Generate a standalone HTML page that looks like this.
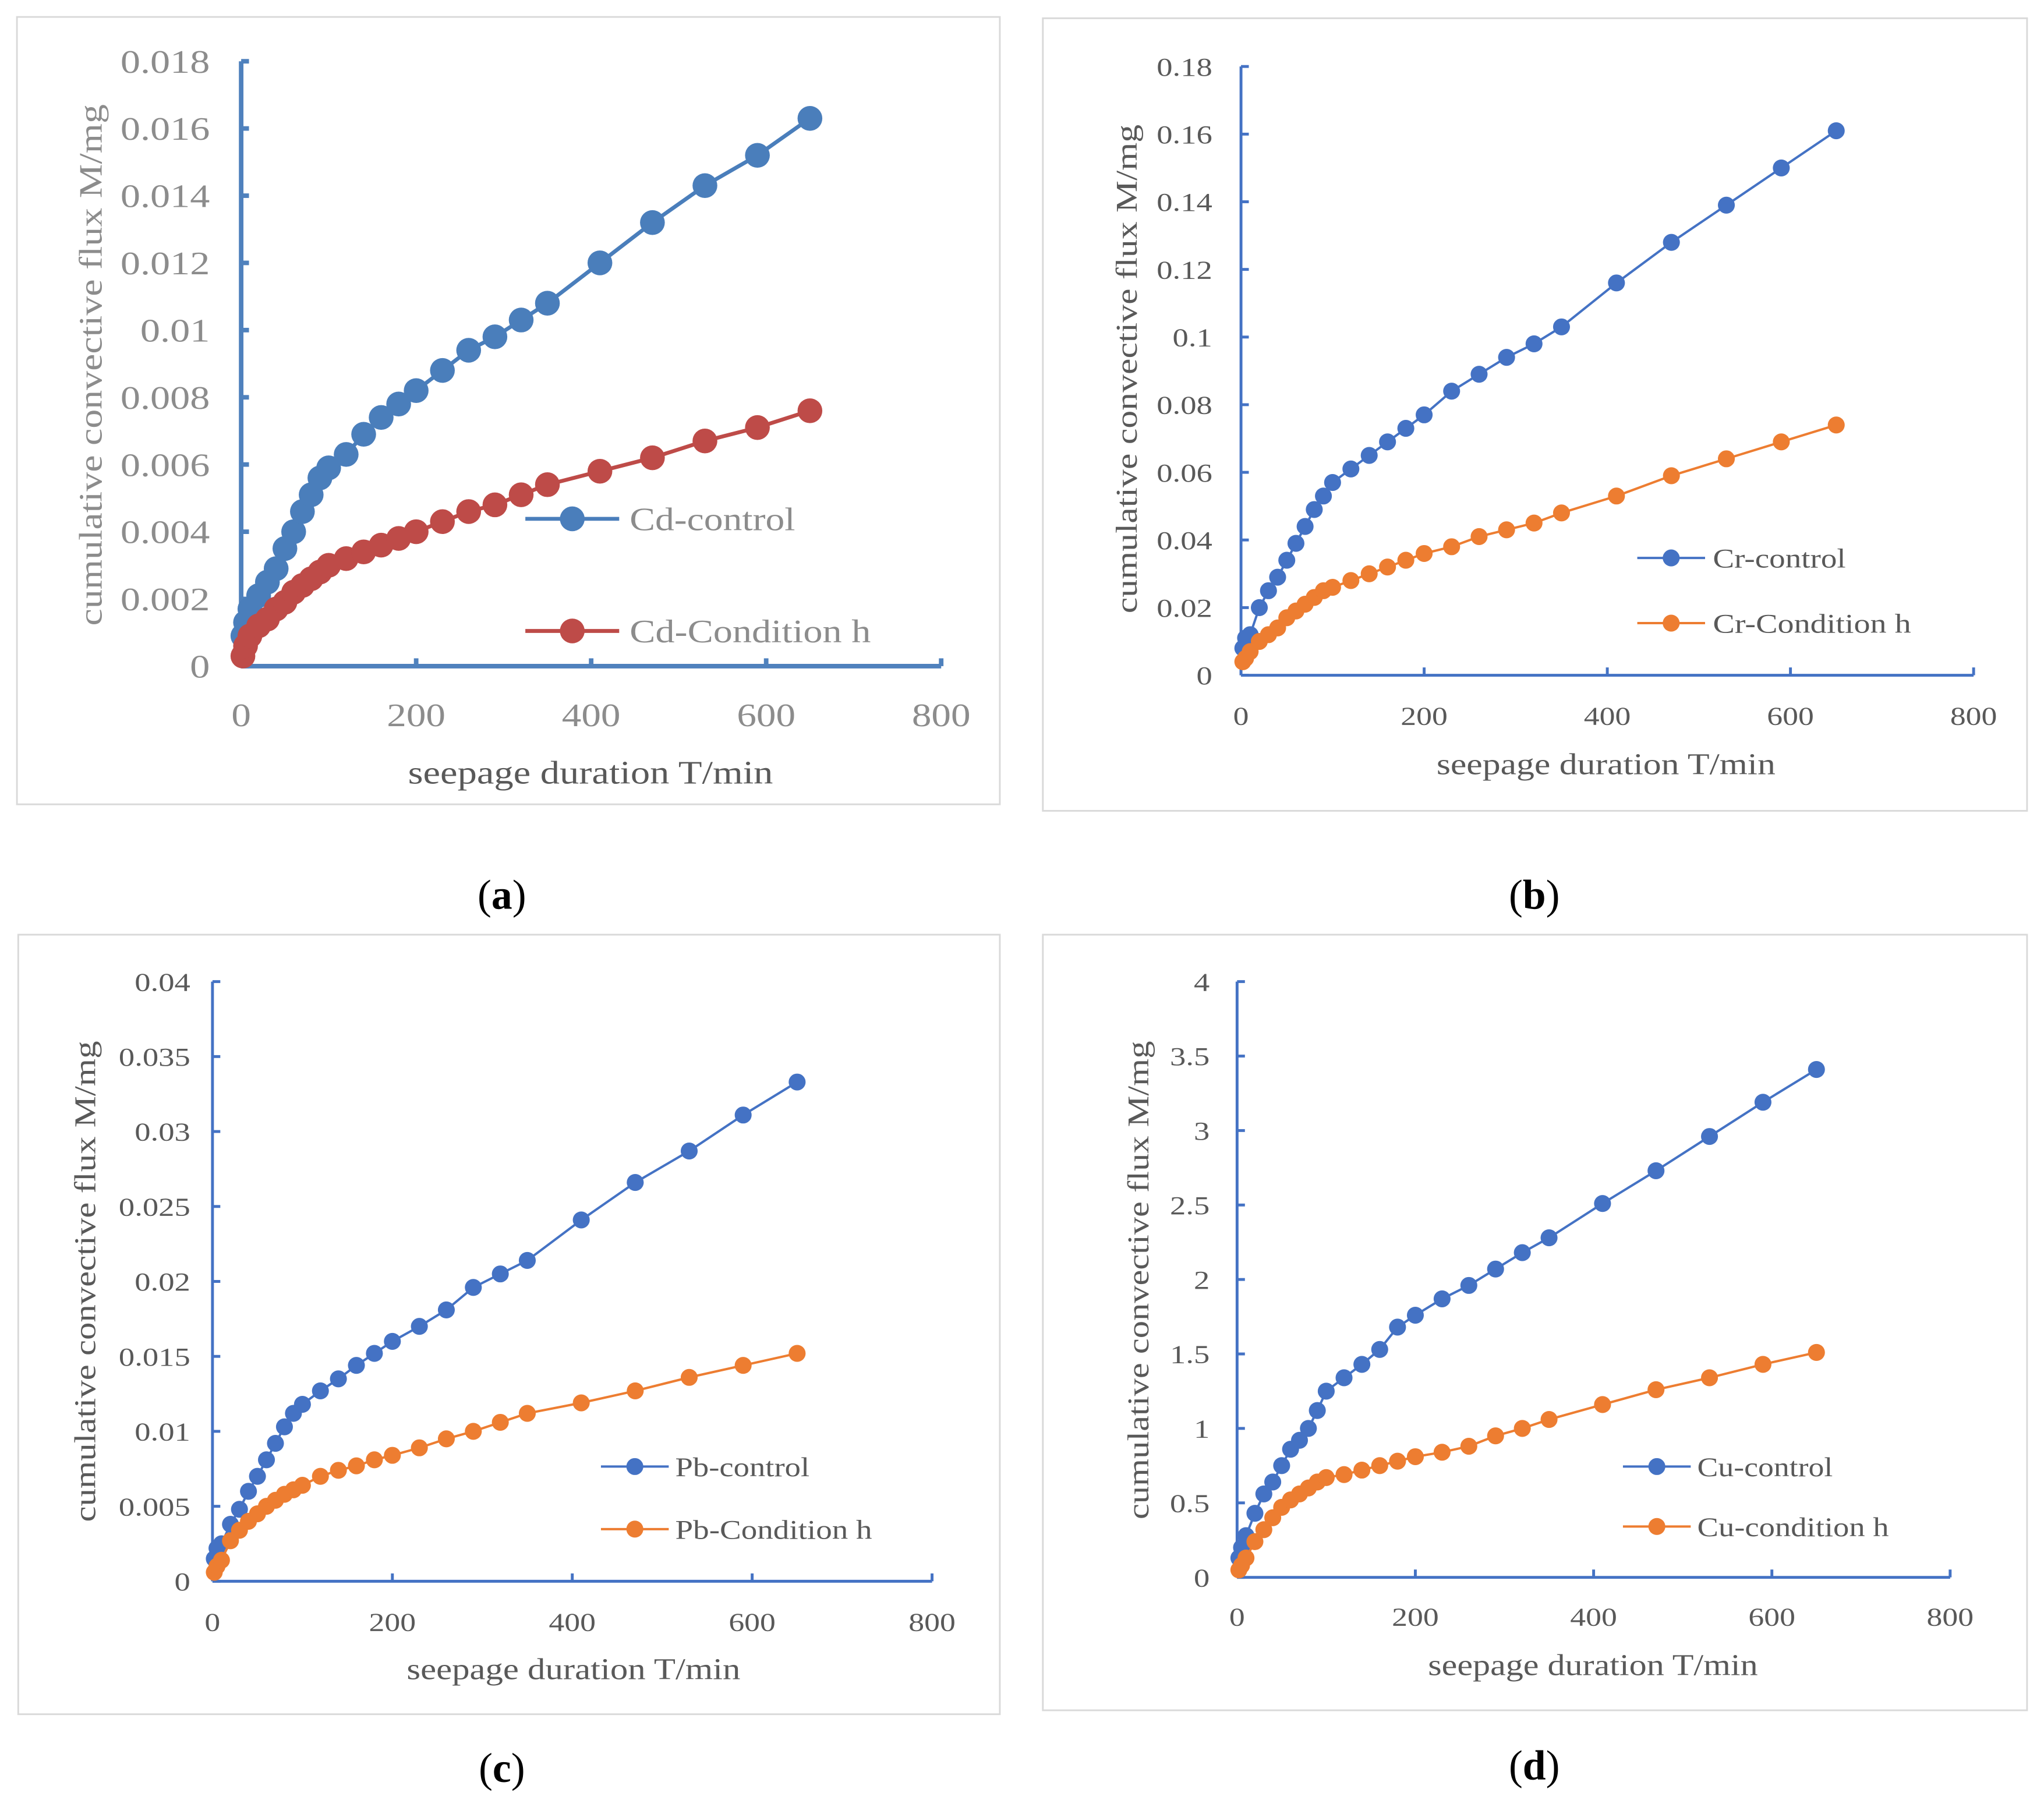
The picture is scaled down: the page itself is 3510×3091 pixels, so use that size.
<!DOCTYPE html>
<html><head><meta charset="utf-8"><style>
html,body{margin:0;padding:0;background:#fff}
svg{display:block}
text{font-family:"Liberation Serif",serif}
</style></head><body>
<svg id="fig" width="3510" height="3091" viewBox="0 0 1568 1380.8" preserveAspectRatio="none" xmlns="http://www.w3.org/2000/svg"></svg>
<script>
const xs=[2,5,10,20,30,40,50,60,70,80,90,100,120,140,160,180,200,230,260,290,320,350,410,470,530,590,650];
const xTicks=[0,200,400,600,800];
const cdControl=[0.0009,0.0013,0.0017,0.0021,0.0025,0.0029,0.0035,0.004,0.0046,0.0051,0.0056,0.0059,0.0063,0.0069,0.0074,0.0078,0.0082,0.0088,0.0094,0.0098,0.0103,0.0108,0.012,0.0132,0.0143,0.0152,0.0163];
const cdH=[0.0003,0.0006,0.0009,0.0012,0.0014,0.0017,0.0019,0.0022,0.0024,0.0026,0.0028,0.003,0.0032,0.0034,0.0036,0.0038,0.004,0.0043,0.0046,0.0048,0.0051,0.0054,0.0058,0.0062,0.0067,0.0071,0.0076];
const crControl=[0.008,0.011,0.012,0.02,0.025,0.029,0.034,0.039,0.044,0.049,0.053,0.057,0.061,0.065,0.069,0.073,0.077,0.084,0.089,0.094,0.098,0.103,0.116,0.128,0.139,0.15,0.161];
const crH=[0.004,0.005,0.007,0.01,0.012,0.014,0.017,0.019,0.021,0.023,0.025,0.026,0.028,0.03,0.032,0.034,0.036,0.038,0.041,0.043,0.045,0.048,0.053,0.059,0.064,0.069,0.074];
const pbControl=[0.0015,0.0022,0.0025,0.0038,0.0048,0.006,0.007,0.0081,0.0092,0.0103,0.0112,0.0118,0.0127,0.0135,0.0144,0.0152,0.016,0.017,0.0181,0.0196,0.0205,0.0214,0.0241,0.0266,0.0287,0.0311,0.0333];
const pbH=[0.0006,0.001,0.0014,0.0027,0.0034,0.004,0.0045,0.005,0.0054,0.0058,0.0061,0.0064,0.007,0.0074,0.0077,0.0081,0.0084,0.0089,0.0095,0.01,0.0106,0.0112,0.0119,0.0127,0.0136,0.0144,0.0152];
const cuControl=[0.13,0.2,0.28,0.43,0.56,0.64,0.75,0.86,0.92,1.0,1.12,1.25,1.34,1.43,1.53,1.68,1.76,1.87,1.96,2.07,2.18,2.28,2.51,2.73,2.96,3.19,3.41];
const cuH=[0.05,0.08,0.13,0.24,0.32,0.4,0.47,0.52,0.56,0.6,0.64,0.67,0.69,0.72,0.75,0.78,0.81,0.84,0.88,0.95,1.0,1.06,1.16,1.26,1.34,1.43,1.51];
const yTicksA=["0","0.002","0.004","0.006","0.008","0.01","0.012","0.014","0.016","0.018"];
const yTicksB=["0","0.02","0.04","0.06","0.08","0.1","0.12","0.14","0.16","0.18"];
const yTicksC=["0","0.005","0.01","0.015","0.02","0.025","0.03","0.035","0.04"];
const yTicksD=["0","0.5","1","1.5","2","2.5","3","3.5","4"];
const labelsA=["Cd-control","Cd-Condition h"],labelsB=["Cr-control","Cr-Condition h"],labelsC=["Pb-control","Pb-Condition h"],labelsD=["Cu-control","Cu-condition h"];

const NS="http://www.w3.org/2000/svg";
const svg=document.getElementById('fig');
function mk(tag,attrs,parent,txt){const e=document.createElementNS(NS,tag);for(const k in attrs)e.setAttribute(k,attrs[k]);if(txt!==undefined)e.textContent=txt;(parent||svg).appendChild(e);return e;}
const stretchList=[];
function stretch(el,f){stretchList.push([el,f]);}

const panels=[
 {id:'a',frame:[13,13,767,617],x0:185,x1:722,y0:511,y1:47,ymax:0.018,ticks:yTicksA,series:[cdControl,cdH],labels:labelsA,cols:['#4a7ebb','#be4b48'],axis:'#4f81bd',aw:3.5,lw:3,r:9.5,tf:25,tc:'#8c8c8c',tlx:161,xly:557,tt:[453,601],yt:[78,280],ttf:25,ytl:400,xtl:280,leg:[403,475,398,484,483],lf:25,ll:[127,185],lc:'#8c8c8c',cap:[385,697]},
 {id:'b',frame:[800,14,1555,622],x0:952,x1:1514,y0:518,y1:51,ymax:0.18,ticks:yTicksB,series:[crControl,crH],labels:labelsB,cols:['#4472c4','#ed7d31'],axis:'#4472c4',aw:2.2,lw:1.8,r:6.5,tf:20,tc:'#595959',tlx:930,xly:556,tt:[1232,594],yt:[872,283],ttf:23,ytl:375,xtl:260,leg:[1256,1308,428,478,1314],lf:21,ll:[102,152],lc:'#595959',cap:[1177,697]},
 {id:'c',frame:[14,717,767,1315],x0:163,x1:715,y0:1213,y1:753,ymax:0.04,ticks:yTicksC,series:[pbControl,pbH],labels:labelsC,cols:['#4472c4','#ed7d31'],axis:'#4472c4',aw:2.2,lw:1.8,r:6.5,tf:20,tc:'#595959',tlx:146,xly:1251,tt:[440,1288],yt:[73,983],ttf:23,ytl:369,xtl:256,leg:[461,513,1125,1173,518],lf:21,ll:[103,151],lc:'#595959',cap:[385,1367]},
 {id:'d',frame:[800,717,1555,1312],x0:949,x1:1496,y0:1210,y1:753,ymax:4,ticks:yTicksD,series:[cuControl,cuH],labels:labelsD,cols:['#4472c4','#ed7d31'],axis:'#4472c4',aw:2.2,lw:1.8,r:6.5,tf:20,tc:'#595959',tlx:928,xly:1247,tt:[1222,1285],yt:[881,982],ttf:23,ytl:367,xtl:253,leg:[1245,1297,1125,1171,1302],lf:21,ll:[104,147],lc:'#595959',cap:[1177,1365]}
];

panels.forEach(p=>{
 const g=mk('g',{});
 
 
 const f=p.frame;
 const fr=mk('rect',{x:f[0],y:f[1],width:f[2]-f[0],height:f[3]-f[1],fill:'#fff',stroke:'#d9d9d9','stroke-width':1.3},g);
 
 
 const X=v=>p.x0+(p.x1-p.x0)*v/800;
 const Y=v=>p.y0-(p.y0-p.y1)*v/p.ymax;
 const ax=mk('g',{},g);
 
 
 mk('line',{x1:p.x0,y1:p.y0,x2:p.x1,y2:p.y0,stroke:p.axis,'stroke-width':p.aw},ax);
 mk('line',{x1:p.x0,y1:p.y0,x2:p.x0,y2:p.y1,stroke:p.axis,'stroke-width':p.aw},ax);
 const n=p.ticks.length-1;
 p.ticks.forEach((t,i)=>{
  const yy=Y(p.ymax*i/n);
  mk('line',{x1:p.x0,y1:yy,x2:p.x0+6,y2:yy,stroke:p.axis,'stroke-width':p.aw},ax);
  const tx=mk('text',{x:p.tlx,y:yy+p.tf*0.35,'font-size':p.tf,fill:p.tc,'text-anchor':'end'},ax,t);
  
  
  stretch(tx,1.22);
 });
 xTicks.forEach(t=>{
  const xx=X(t);
  mk('line',{x1:xx,y1:p.y0,x2:xx,y2:p.y0-6,stroke:p.axis,'stroke-width':p.aw},ax);
  const tx=mk('text',{x:xx,y:p.xly,'font-size':p.tf,fill:p.tc,'text-anchor':'middle'},ax,String(t));
  
  
  stretch(tx,1.2);
 });
 const xt=mk('text',{x:p.tt[0],y:p.tt[1],'font-size':p.ttf,fill:'#595959','text-anchor':'middle',textLength:p.xtl,lengthAdjust:'spacingAndGlyphs'},g,'seepage duration T/min');
 
 
 const yt=mk('text',{x:p.yt[0],y:p.yt[1],'font-size':p.ttf,fill:p.id==='a'?'#8c8c8c':'#595959','text-anchor':'middle',textLength:p.ytl,lengthAdjust:'spacingAndGlyphs',transform:`rotate(-90 ${p.yt[0]} ${p.yt[1]})`},g,'cumulative convective flux M/mg');
 
 
 p.series.forEach((s,si)=>{
  const sg=mk('g',{},g);
  
  
  const pts=s.map((v,i)=>X(xs[i]).toFixed(2)+','+Y(v).toFixed(2)).join(' ');
  mk('polyline',{points:pts,fill:'none',stroke:p.cols[si],'stroke-width':p.lw},sg);
  s.forEach((v,i)=>{
   const c=mk('circle',{cx:X(xs[i]),cy:Y(v),r:p.r,fill:p.cols[si]},sg);
   
   
  });
  const L=p.leg, ly=si===0?L[2]:L[3];
  const lg=mk('g',{},g);
  
  
  mk('line',{x1:L[0],y1:ly,x2:L[1],y2:ly,stroke:p.cols[si],'stroke-width':p.lw},lg);
  mk('circle',{cx:(L[0]+L[1])/2,cy:ly,r:p.r,fill:p.cols[si]},lg);
  mk('text',{x:L[4],y:ly+p.lf*0.35,'font-size':p.lf,fill:p.lc,textLength:p.ll[si],lengthAdjust:'spacingAndGlyphs'},lg,p.labels[si]);
 });
 const cap=mk('text',{x:p.cap[0],y:p.cap[1],'font-size':32,fill:'#000','text-anchor':'middle'},g);
 
 
 mk('tspan',{},cap,'(');
 mk('tspan',{'font-weight':'bold'},cap,p.id);
 mk('tspan',{},cap,')');
});
stretchList.forEach(([el,f])=>{
 try{const w=el.getComputedTextLength();if(w>0){el.setAttribute('textLength',(w*f).toFixed(1));el.setAttribute('lengthAdjust','spacingAndGlyphs');}}catch(e){}
});
</script>
</body></html>
